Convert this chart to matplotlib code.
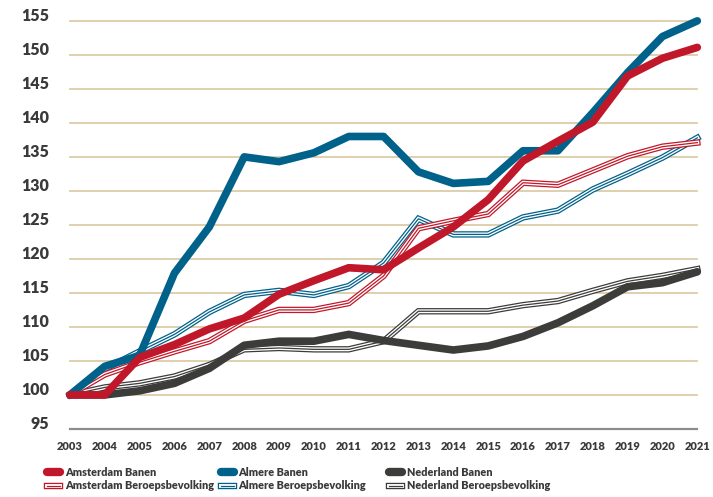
import matplotlib
matplotlib.use("Agg")
import matplotlib.pyplot as plt
from matplotlib.lines import Line2D
from matplotlib.legend_handler import HandlerTuple

years = list(range(2003, 2022))

ams_banen = [100, 100, 105.5, 107.4, 109.7, 111.3, 114.8, 116.8, 118.7, 118.4,
             121.6, 124.7, 128.7, 134.4, 137.3, 140.1, 146.9, 149.5, 151.1]
alm_banen = [100, 104.2, 105.8, 117.9, 124.7, 135.0, 134.3, 135.6, 138.0, 138.0,
             132.8, 131.1, 131.4, 135.9, 135.9, 141.5, 147.4, 152.7, 155.0]
ned_banen = [100, 100, 100.6, 101.7, 103.9, 107.3, 107.9, 107.9, 108.9, 108.0,
             107.3, 106.6, 107.2, 108.6, 110.6, 113.1, 115.9, 116.5, 118.1]

ams_beroeps = [100, 103.0, 104.8, 106.4, 107.9, 110.9, 112.5, 112.5, 113.5, 117.5,
               124.5, 125.6, 126.6, 131.2, 130.9, 133.0, 135.1, 136.5, 137.1]
alm_beroeps = [100, 103.8, 106.4, 108.9, 112.2, 114.7, 115.3, 114.7, 116.0, 119.4,
               125.9, 123.6, 123.6, 126.1, 127.1, 130.2, 132.5, 134.9, 137.8]
ned_beroeps = [100, 101.1, 101.7, 102.7, 104.4, 106.7, 106.9, 106.7, 106.7, 107.9,
               112.3, 112.3, 112.3, 113.2, 113.8, 115.3, 116.7, 117.5, 118.5]

y_ticks = list(range(95, 160, 5))

RED = "#C0182A"
BLUE = "#00618A"
GREY = "#3C3C3B"
GRID = "#DCCBA8"
TXT = "#3A3A3A"
FONT = ["Lato", "DejaVu Sans"]

fig = plt.figure(figsize=(7.13, 4.97), dpi=100)
ax = fig.add_axes([0.098, 0.137, 0.88, 0.821])
ax.set_xlim(2003, 2021)
ax.set_ylim(95, 155)
for s in ax.spines.values():
    s.set_visible(False)
ax.set_xticks([])
ax.set_yticks([])

for v in y_ticks:
    if v == 95:
        ax.axhline(v, color="#8C8C8C", lw=1.6, zorder=1, clip_on=False)
    else:
        ax.axhline(v, color=GRID, lw=1.3, zorder=1, clip_on=False)
    ax.annotate(str(v), xy=(2003, v), xytext=(-15, 3.5), textcoords="offset points",
                ha="right", va="center", fontsize=11.5, fontweight="heavy",
                color=TXT, family=FONT, annotation_clip=False)

for yr in years:
    ax.annotate(str(yr), xy=(yr, 95), xytext=(0, -9), textcoords="offset points",
                ha="center", va="top", fontsize=8, fontweight="heavy",
                color=TXT, family=FONT, annotation_clip=False)


def triple(x, y, c, z):
    ax.plot(x, y, color=c, lw=4.6, zorder=z, clip_on=False, solid_joinstyle="miter")
    ax.plot(x, y, color="white", lw=2.8, zorder=z, clip_on=False, solid_joinstyle="miter")
    ax.plot(x, y, color=c, lw=0.9, zorder=z, clip_on=False, solid_joinstyle="miter")


triple(years, ned_beroeps, GREY, 2)
triple(years, alm_beroeps, BLUE, 3)
triple(years, ams_beroeps, RED, 4)
ax.plot(years, ned_banen, color=GREY, lw=5.5, zorder=5, clip_on=False, solid_capstyle="round")
ax.plot(years, alm_banen, color=BLUE, lw=5.5, zorder=6, clip_on=False, solid_capstyle="round")
ax.plot(years, ams_banen, color=RED, lw=5.5, zorder=7, clip_on=False, solid_capstyle="round")


def thick(c):
    return Line2D([], [], color=c, lw=6, solid_capstyle="round")


def striped(c):
    return (Line2D([], [], color=c, lw=4.6), Line2D([], [], color="white", lw=2.8),
            Line2D([], [], color=c, lw=0.9))


entries = [("Amsterdam", RED, 0.058), ("Almere", BLUE, 0.302), ("Nederland", GREY, 0.538)]
for name, c, xpos in entries:
    leg = fig.legend([thick(c), striped(c)],
                     [name + " Banen", name + " Beroepsbevolking"],
                     loc="upper left", bbox_to_anchor=(xpos, 0.072),
                     frameon=False, handlelength=1.2, handletextpad=0.45,
                     labelspacing=0.25, borderpad=0,
                     handler_map={tuple: HandlerTuple(ndivide=1, pad=0)},
                     prop={"family": FONT, "weight": "heavy", "size": 7.8})
    for t in leg.get_texts():
        t.set_color(TXT)

fig.savefig("out.png", dpi=100)
